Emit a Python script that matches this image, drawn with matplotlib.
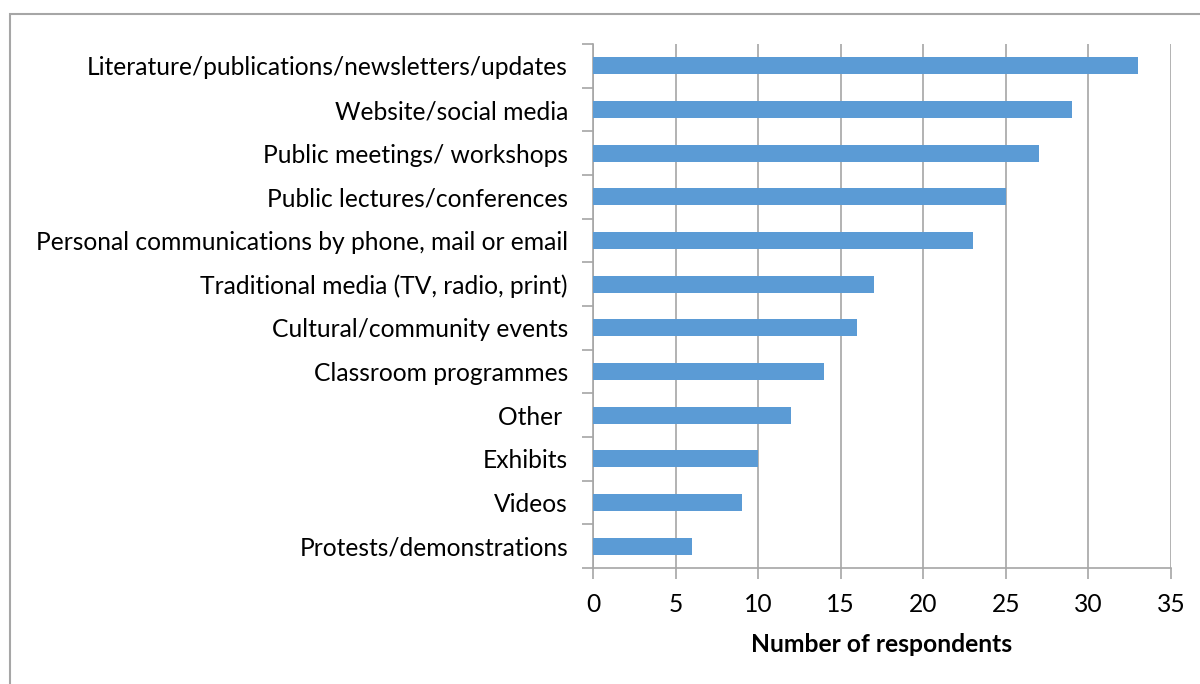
import matplotlib
matplotlib.use("Agg")
import matplotlib.pyplot as plt
from matplotlib.patches import Rectangle

categories = [
    "Literature/publications/newsletters/updates",
    "Website/social media",
    "Public meetings/ workshops",
    "Public lectures/conferences",
    "Personal communications by phone, mail or email",
    "Traditional media (TV, radio, print)",
    "Cultural/community events",
    "Classroom programmes",
    "Other ",
    "Exhibits",
    "Videos",
    "Protests/demonstrations",
]
respondents = [33, 29, 27, 25, 23, 17, 16, 14, 12, 10, 9, 6]
x_ticks = [0, 5, 10, 15, 20, 25, 30, 35]

plt.rcParams["font.family"] = ["Lato", "DejaVu Sans"]

W, H = 1200, 684
fig = plt.figure(figsize=(W / 100, H / 100), dpi=100)
ax = fig.add_axes([593 / W, 1 - 568 / H, (1171 - 593) / W, (568 - 44) / H])

n = len(categories)
ypos = list(range(n))[::-1]
ax.barh(ypos, respondents, height=0.39, color="#5B9BD5", zorder=3)

ax.set_xlim(0, 35)
ax.set_ylim(-0.5, n - 0.5)
ax.set_xticks(x_ticks)
ax.set_xticklabels([str(t) for t in x_ticks])
ax.set_yticks(ypos)
ax.set_yticklabels(categories)
ax.set_yticks([i - 0.5 for i in range(n + 1)], minor=True)

grid_c = "#A6A6A6"
ax.grid(axis="x", color=grid_c, linewidth=1.2, zorder=0)
for s in ["top", "right"]:
    ax.spines[s].set_visible(False)
for s in ["left", "bottom"]:
    ax.spines[s].set_color(grid_c)
    ax.spines[s].set_linewidth(1.2)

ax.tick_params(axis="y", which="major", length=0, pad=18, labelsize=17.7, colors="black")
ax.tick_params(axis="y", which="minor", length=8, width=1.2, color=grid_c)
ax.tick_params(axis="x", length=8, width=1.2, color=grid_c, pad=10, labelsize=17.7, labelcolor="black")

ax.set_xlabel("Number of respondents", fontsize=17.7, fontweight="bold", labelpad=12)

fig.patches.append(Rectangle((10 / W, -0.1), 1.2, 1 - 14 / H + 0.1,
                             transform=fig.transFigure, fill=False,
                             edgecolor="#A6A6A6", linewidth=1.5))

fig.savefig("out.png", dpi=100)
